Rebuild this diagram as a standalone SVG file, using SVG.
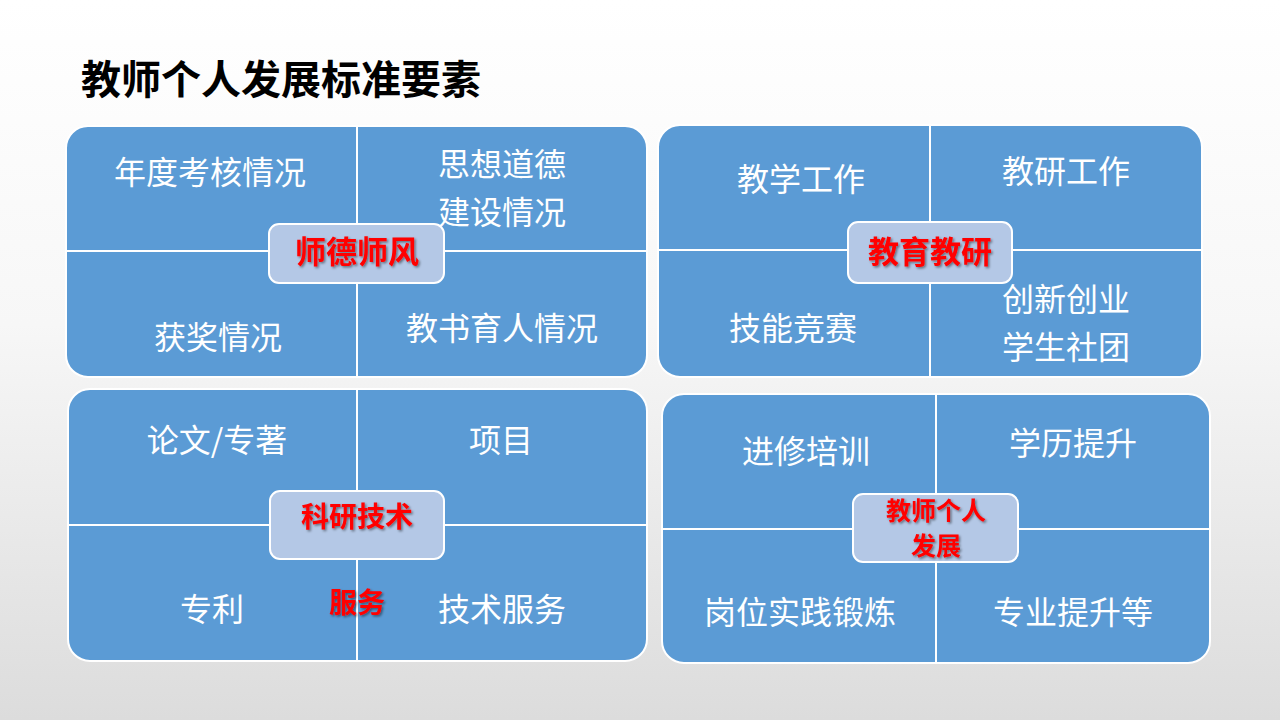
<svg xmlns="http://www.w3.org/2000/svg" width="1280" height="720" viewBox="0 0 1280 720">
<defs>
<linearGradient id="bg" x1="0" y1="0" x2="0" y2="1">
<stop offset="0" stop-color="#ffffff"/>
<stop offset="0.45" stop-color="#f7f7f7"/>
<stop offset="1" stop-color="#dcdcdc"/>
</linearGradient>
<filter id="ts" x="-20%" y="-20%" width="140%" height="140%">
<feDropShadow dx="1.5" dy="1.5" stdDeviation="1" flood-color="#000" flood-opacity="0.45"/>
</filter>
</defs>
<style>
.panel{fill:#5b9bd5;stroke:#ffffff;stroke-width:2}
.div{stroke:#ffffff;stroke-width:2;fill:none}
.hub{fill:#b4c8e6;stroke:#ffffff;stroke-width:2}
.cell{font-family:"Noto Sans CJK SC","Noto Sans",sans-serif;font-size:32px;fill:#ffffff;text-anchor:middle}
.lab{font-family:"Noto Sans CJK SC","Noto Sans",sans-serif;font-weight:bold;fill:#ff0000;text-anchor:middle;filter:url(#ts)}
.title{font-family:"Noto Sans CJK SC","Noto Sans",sans-serif;font-weight:bold;font-size:40px;fill:#000000}
</style>
<rect x="0" y="0" width="1280" height="720" fill="url(#bg)"/>
<text class="title" x="81" y="94">教师个人发展标准要素</text>

<g id="panel-shide">
<rect class="panel" x="66" y="126" width="581" height="251" rx="22"/>
<line class="div" x1="357" y1="126" x2="357" y2="377"/>
<line class="div" x1="66" y1="251" x2="647" y2="251"/>
<rect class="hub" x="269" y="224" width="175" height="59" rx="10"/>
<text class="cell" x="210" y="184">年度考核情况</text>
<text class="cell" x="502" y="176">思想道德</text>
<text class="cell" x="502" y="224">建设情况</text>
<text class="cell" x="218" y="349">获奖情况</text>
<text class="cell" x="502" y="340">教书育人情况</text>
<text class="lab" x="357" y="263" font-size="31">师德师风</text>
</g>

<g id="panel-jiaoyu">
<rect class="panel" x="658" y="125" width="544" height="252" rx="22"/>
<line class="div" x1="930" y1="125" x2="930" y2="377"/>
<line class="div" x1="658" y1="250" x2="1202" y2="250"/>
<rect class="hub" x="848" y="222" width="164" height="61" rx="10"/>
<text class="cell" x="801" y="191">教学工作</text>
<text class="cell" x="1066" y="183">教研工作</text>
<text class="cell" x="793" y="340">技能竞赛</text>
<text class="cell" x="1066" y="311">创新创业</text>
<text class="cell" x="1066" y="359">学生社团</text>
<text class="lab" x="930" y="263" font-size="31">教育教研</text>
</g>

<g id="panel-keyan">
<rect class="panel" x="68" y="389" width="579" height="272" rx="22"/>
<line class="div" x1="357" y1="389" x2="357" y2="661"/>
<line class="div" x1="68" y1="525" x2="647" y2="525"/>
<rect class="hub" x="270" y="491" width="174" height="68" rx="10"/>
<text class="cell" x="217" y="452">论文/专著</text>
<text class="cell" x="501" y="452">项目</text>
<text class="cell" x="212" y="621">专利</text>
<text class="cell" x="502" y="621">技术服务</text>
<text class="lab" x="357" y="527" font-size="28">科研技术</text>
<text class="lab" x="357" y="613" font-size="28">服务</text>
</g>

<g id="panel-fazhan">
<rect class="panel" x="662" y="394" width="548" height="269" rx="22"/>
<line class="div" x1="936" y1="394" x2="936" y2="663"/>
<line class="div" x1="662" y1="529" x2="1210" y2="529"/>
<rect class="hub" x="853" y="494" width="165" height="68" rx="10"/>
<text class="cell" x="806" y="463">进修培训</text>
<text class="cell" x="1073" y="455">学历提升</text>
<text class="cell" x="800" y="624">岗位实践锻炼</text>
<text class="cell" x="1073" y="624">专业提升等</text>
<text class="lab" x="936" y="520" font-size="25">教师个人</text>
<text class="lab" x="936" y="555" font-size="25">发展</text>
</g>
</svg>
